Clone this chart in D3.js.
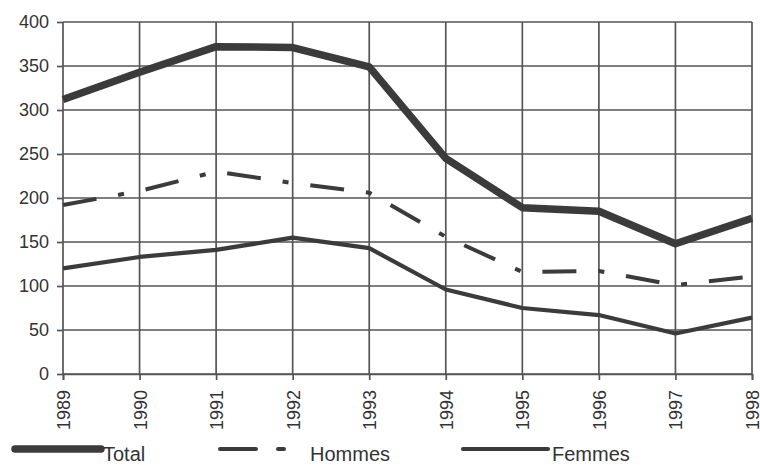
<!DOCTYPE html>
<html>
<head>
<meta charset="utf-8">
<script src="https://cdn.jsdelivr.net/npm/d3@7"></script>
<style>
  html, body { margin: 0; padding: 0; background: #fff; }
  svg { display: block; font-family: "Liberation Sans", Arial, sans-serif; }
</style>
</head>
<body>
<svg id="chart" width="760" height="465"></svg>
<script>
// Years on the horizontal axis
const years = ["1989", "1990", "1991", "1992", "1993", "1994", "1995", "1996", "1997", "1998"];
// Series values
const totalValues  = [312, 343, 372, 371, 349, 245, 189, 185, 148, 177];
const hommesValues = [192, 208, 230, 217, 206, 156, 116, 117, 101, 111];
const femmesValues = [120, 133, 141, 155, 143, 96, 75, 67, 46, 64];
// Vertical axis ticks
const yTicks = [0, 50, 100, 150, 200, 250, 300, 350, 400];

(function draw() {
  const svg = d3.select("#chart");
  const plotLeft = 63, plotRight = 752, plotTop = 22, plotBottom = 374;
  const ink = "#3b3b3b";
  const gridInk = "#555";

  const x = d3.scalePoint().domain(years).range([plotLeft, plotRight]);
  const y = d3.scaleLinear().domain([0, 400]).range([plotBottom, plotTop]);

  // Horizontal gridlines
  svg.append("g").selectAll("line").data(yTicks).join("line")
    .attr("x1", plotLeft).attr("x2", plotRight)
    .attr("y1", d => y(d)).attr("y2", d => y(d))
    .attr("stroke", gridInk).attr("stroke-width", 1.7);

  // Vertical gridlines
  svg.append("g").selectAll("line").data(years).join("line")
    .attr("x1", d => x(d)).attr("x2", d => x(d))
    .attr("y1", plotTop).attr("y2", plotBottom)
    .attr("stroke", gridInk).attr("stroke-width", 1.7);

  // Y axis
  const yAxis = svg.append("g")
    .attr("transform", `translate(${plotLeft},0)`)
    .call(d3.axisLeft(y).tickValues(yTicks).tickSize(6).tickPadding(8));
  yAxis.select(".domain").remove();
  yAxis.selectAll("line").attr("stroke", gridInk).attr("stroke-width", 1.7);
  yAxis.selectAll("text").attr("font-size", 18).attr("fill", "#333");

  // X axis with rotated year labels
  const xAxis = svg.append("g")
    .attr("transform", `translate(0,${plotBottom})`)
    .call(d3.axisBottom(x).tickSize(6).tickPadding(8));
  xAxis.select(".domain").attr("stroke", gridInk).attr("stroke-width", 1.7);
  xAxis.selectAll("line").attr("stroke", gridInk).attr("stroke-width", 1.7);
  xAxis.selectAll("text")
    .attr("font-size", 18).attr("fill", "#333")
    .attr("transform", "rotate(-90)")
    .attr("text-anchor", "end")
    .attr("x", -16).attr("y", 0).attr("dy", "0.36em");

  // Series lines
  const line = d3.line().x((d, i) => x(years[i])).y(d => y(d));
  const series = [
    { name: "Total", values: totalValues, width: 7.5, dash: null },
    { name: "Hommes", values: hommesValues, width: 4, dash: "34,22,6,22" },
    { name: "Femmes", values: femmesValues, width: 4.2, dash: null }
  ];
  svg.append("g").selectAll("path").data(series).join("path")
    .attr("d", d => line(d.values))
    .attr("fill", "none")
    .attr("stroke", ink)
    .attr("stroke-width", d => d.width)
    .attr("stroke-dasharray", d => d.dash)
    .attr("stroke-linejoin", "round");

  // Legend
  const legendY = 449;
  const legend = [
    { name: "Total", x1: 15, x2: 101, width: 7.5, dash: null, tx: 103 },
    { name: "Hommes", x1: 220, x2: 285, width: 4, dash: "36,22,6,50", tx: 310 },
    { name: "Femmes", x1: 463, x2: 548, width: 4.2, dash: null, tx: 552 }
  ];
  const lg = svg.append("g").selectAll("g").data(legend).join("g");
  lg.append("line")
    .attr("x1", d => d.x1).attr("x2", d => d.x2)
    .attr("y1", legendY).attr("y2", legendY)
    .attr("stroke", ink)
    .attr("stroke-width", d => d.width)
    .attr("stroke-dasharray", d => d.dash)
    .attr("stroke-linecap", "round");
  lg.append("text")
    .attr("x", d => d.tx).attr("y", legendY + 12)
    .attr("font-size", 20).attr("fill", "#333")
    .text(d => d.name);
})();
</script>
</body>
</html>
